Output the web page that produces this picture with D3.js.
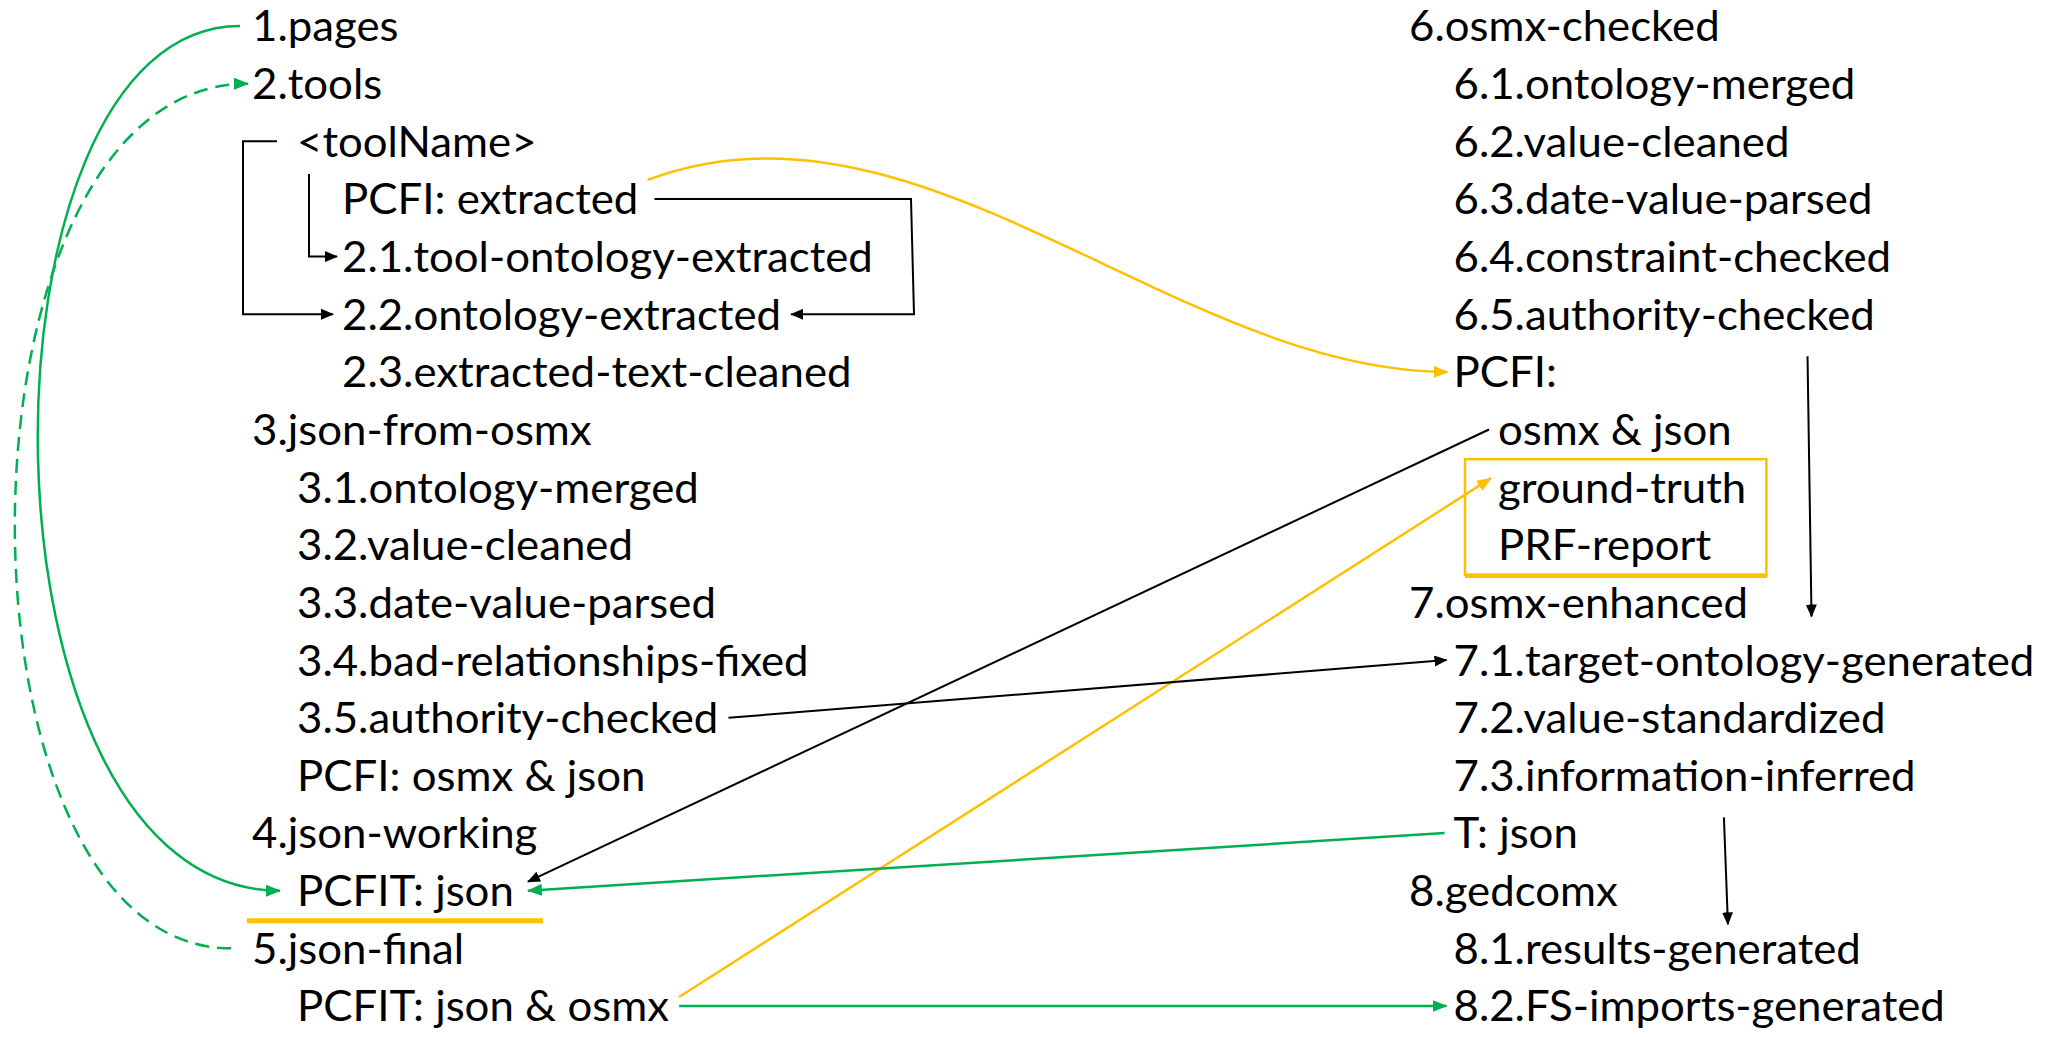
<!DOCTYPE html>
<html lang="en">
<head>
<meta charset="UTF-8">
<title>Pipeline folders</title>
<script src="https://cdn.jsdelivr.net/npm/d3@7"></script>
<style>
  html, body { margin: 0; padding: 0; background: #fff; }
  svg { display: block; }
  text { font-family: Lato, "Open Sans", sans-serif; fill: #000; }
</style>
</head>
<body>
<svg id="chart" width="2049" height="1037"></svg>
<script>
// folder labels, one per row, and their indent level
const leftLabels = ["1.pages", "2.tools", "<toolName>", "PCFI: extracted", "2.1.tool-ontology-extracted",
  "2.2.ontology-extracted", "2.3.extracted-text-cleaned", "3.json-from-osmx", "3.1.ontology-merged",
  "3.2.value-cleaned", "3.3.date-value-parsed", "3.4.bad-relationships-fixed", "3.5.authority-checked",
  "PCFI: osmx & json", "4.json-working", "PCFIT: json", "5.json-final", "PCFIT: json & osmx"];
const leftLevels = [0, 0, 1, 2, 2, 2, 2, 0, 1, 1, 1, 1, 1, 1, 0, 1, 0, 1];

const rightLabels = ["6.osmx-checked", "6.1.ontology-merged", "6.2.value-cleaned", "6.3.date-value-parsed",
  "6.4.constraint-checked", "6.5.authority-checked", "PCFI:", "osmx & json", "ground-truth", "PRF-report",
  "7.osmx-enhanced", "7.1.target-ontology-generated", "7.2.value-standardized", "7.3.information-inferred",
  "T: json", "8.gedcomx", "8.1.results-generated", "8.2.FS-imports-generated"];
const rightLevels = [0, 1, 1, 1, 1, 1, 1, 2, 2, 2, 0, 1, 1, 1, 1, 0, 1, 1];

// connectors between labels
const links = [
  {from: "1.pages", to: "PCFIT: json", kind: "loopNear", color: "green"},
  {from: "5.json-final", to: "2.tools", kind: "loopFar", color: "green", dashed: true},
  {from: "<toolName>", to: "2.2.ontology-extracted", kind: "bracketLeft", color: "black"},
  {from: "PCFI: extracted", to: "2.1.tool-ontology-extracted", kind: "elbow", color: "black"},
  {from: "PCFI: extracted", to: "2.2.ontology-extracted", kind: "bracketRight", color: "black"},
  {from: "PCFI: extracted", to: "PCFI:", kind: "wave", color: "yellow"},
  {from: "osmx & json", to: "PCFIT: json", kind: "straight", color: "black", toPort: "high"},
  {from: "PCFIT: json & osmx", to: "ground-truth", kind: "straight", color: "yellow", fromPort: "high", toPort: "high"},
  {from: "3.5.authority-checked", to: "7.1.target-ontology-generated", kind: "straight", color: "black"},
  {from: "T: json", to: "PCFIT: json", kind: "straight", color: "green"},
  {from: "PCFIT: json & osmx", to: "8.2.FS-imports-generated", kind: "straight", color: "green"},
  {from: "6.5.authority-checked", to: "7.osmx-enhanced", kind: "drop", color: "black", fromPort: "under", toPort: "low"},
  {from: "7.3.information-inferred", to: "8.1.results-generated", kind: "drop", color: "black", fromPort: "under", toPort: "top"}
];
const boxed = ["ground-truth", "PRF-report"];
const underlined = ["PCFIT: json"];

const svg = d3.select("#chart");
const fontSize = 43;
const colors = {black: "#000000", green: "#00B050", yellow: "#FFC000"};
const widths = {black: 2, green: 2.5, yellow: 2.5};
const heads = {black: [13, 11], green: [15, 12], yellow: [15, 12]};

const y = d3.scaleLinear().domain([0, 17]).range([26, 1006]);
const xLeft = d3.scaleLinear().domain([0, 2]).range([252, 342]);
const xRight = d3.scaleLinear().domain([0, 2]).range([1409, 1498]);

const nodes = [
  ...leftLabels.map((t, i) => ({id: t, row: i, x: xLeft(leftLevels[i])})),
  ...rightLabels.map((t, i) => ({id: t, row: i, x: xRight(rightLevels[i])}))
];
nodes.forEach(d => d.y = y(d.row));
const byId = new Map(nodes.map(d => [d.id, d]));

const defs = svg.append("defs");
Object.entries(colors).forEach(([name, c]) => {
  const [hl, hw] = heads[name];
  defs.append("marker")
    .attr("id", "arrow-" + name)
    .attr("viewBox", `0 ${-hw / 2} ${hl} ${hw}`)
    .attr("refX", hl - 1).attr("refY", 0)
    .attr("markerWidth", hl).attr("markerHeight", hw)
    .attr("markerUnits", "userSpaceOnUse")
    .attr("orient", "auto")
    .append("path").attr("d", `M0,${-hw / 2}L${hl},0L0,${hw / 2}Z`).attr("fill", c);
});

const gLinks = svg.append("g");
const gText = svg.append("g");

// labels (squeezed a bit to get calibri-like widths)
const texts = gText.selectAll("text").data(nodes).join("text")
  .style("font-size", fontSize + "px")
  .text(d => d.id);
texts.each(function(d) { d.raw = this.getComputedTextLength(); });
const refNode = byId.get("2.1.tool-ontology-extracted");
const k = Math.max(0.75, Math.min(1.25, 531 / refNode.raw));
texts.attr("transform", d => `translate(${d.x},${d.y + fontSize * 0.358}) scale(${k},1)`);
nodes.forEach(d => { d.w = d.raw * k; d.r = d.x + d.w; });

const port = {mid: 0, high: -9, top: -24, low: 14, under: 42};
const dropAt = {"6.5.authority-checked": 0.84, "7.3.information-inferred": 0.585};

function geom(l) {
  const a = byId.get(l.from), b = byId.get(l.to);
  const ay = a.y + port[l.fromPort || "mid"], by = b.y + port[l.toPort || "mid"];
  const p = d3.path();
  switch (l.kind) {
    case "loopNear": {
      const cx = -36;
      p.moveTo(a.x - 12, ay); p.bezierCurveTo(cx, ay, cx, by, b.x - 17, by);
      break;
    }
    case "loopFar": {
      const cx = -60;
      p.moveTo(a.x - 21, ay); p.bezierCurveTo(cx, ay, cx, by, b.x - 4, by);
      break;
    }
    case "bracketLeft":
      p.moveTo(a.x - 20, ay); p.lineTo(a.x - 54, ay); p.lineTo(a.x - 54, by); p.lineTo(b.x - 9, by);
      break;
    case "elbow": {
      const x = xLeft(1) + 12;
      p.moveTo(x, ay - 25); p.lineTo(x, by); p.lineTo(b.x - 5, by);
      break;
    }
    case "bracketRight": {
      const xm = d3.max(nodes.filter(d => d.x === a.x && d.row >= a.row && d.row <= b.row), d => d.r) + 38;
      p.moveTo(a.r + 16, ay); p.lineTo(xm, ay); p.lineTo(xm + 3, by); p.lineTo(b.r + 10, by);
      break;
    }
    case "wave": {
      const x0 = a.r + 9, y0 = ay - 19, x1 = b.x - 6, dx = x1 - x0;
      p.moveTo(x0, y0); p.bezierCurveTo(x0 + 0.34 * dx, y0 - 102, x0 + 0.66 * dx, by, x1, by);
      break;
    }
    case "straight": {
      const ltr = a.x < b.x;
      p.moveTo(ltr ? a.r + 10 : a.x - 9, ay);
      p.lineTo(ltr ? b.x - 7 : b.r + 14, by);
      break;
    }
    case "drop": {
      const x = a.x + dropAt[a.id] * a.w;
      p.moveTo(x, ay); p.lineTo(x + 4, by);
      break;
    }
  }
  return p.toString();
}

gLinks.selectAll("path").data(links).join("path")
  .attr("d", geom)
  .attr("fill", "none")
  .attr("stroke", d => colors[d.color])
  .attr("stroke-width", d => widths[d.color])
  .attr("stroke-dasharray", d => d.dashed ? "14 8" : null)
  .attr("marker-end", d => `url(#arrow-${d.color})`);

// yellow box round ground-truth / PRF-report
const bn = boxed.map(id => byId.get(id));
const bx0 = d3.min(bn, d => d.x) - 33, bx1 = d3.max(bn, d => d.r) + 20;
const by0 = d3.min(bn, d => d.y) - 28, by1 = d3.max(bn, d => d.y) + 30;
gLinks.append("rect")
  .attr("x", bx0).attr("y", by0).attr("width", bx1 - bx0).attr("height", by1 - by0)
  .attr("fill", "none").attr("stroke", colors.yellow).attr("stroke-width", 2.5);
gLinks.append("line")
  .attr("x1", bx0).attr("x2", bx1 + 1).attr("y1", by1 + 1).attr("y2", by1 + 1)
  .attr("stroke", colors.yellow).attr("stroke-width", 4.5);

// yellow underline
gLinks.selectAll("line.under").data(underlined.map(id => byId.get(id))).join("line")
  .attr("class", "under")
  .attr("x1", d => d.x - 50).attr("x2", d => d.r + 29)
  .attr("y1", d => d.y + 30).attr("y2", d => d.y + 30)
  .attr("stroke", colors.yellow).attr("stroke-width", 5);
</script>
</body>
</html>
